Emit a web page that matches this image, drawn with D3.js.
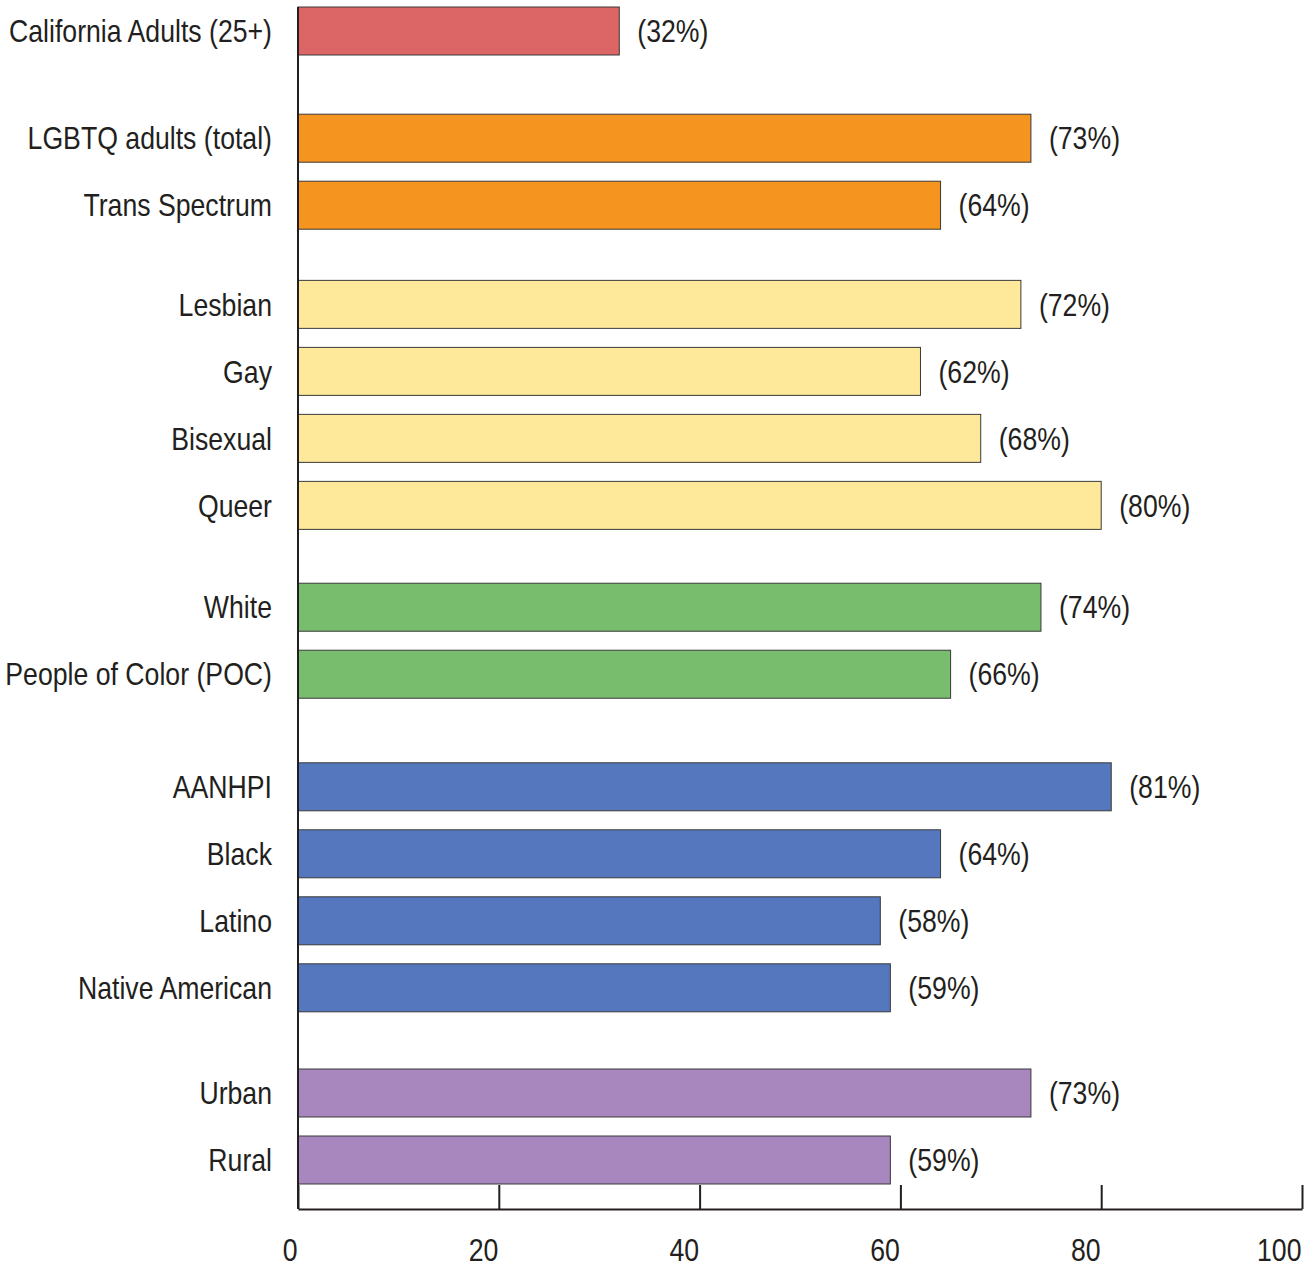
<!DOCTYPE html>
<html>
<head>
<meta charset="utf-8">
<script src="https://cdn.jsdelivr.net/npm/d3@7"></script>
<style>
  body { margin: 0; background: #fff; }
  text { font-family: "Liberation Sans", Arial, sans-serif; fill: #231f20; }
</style>
</head>
<body>
<div id="chart"></div>
<script>
// data
var categories = ['California Adults (25+)', 'LGBTQ adults (total)', 'Trans Spectrum',
    'Lesbian', 'Gay', 'Bisexual', 'Queer',
    'White', 'People of Color (POC)',
    'AANHPI', 'Black', 'Latino', 'Native American',
    'Urban', 'Rural'];
var values = [32, 73, 64, 72, 62, 68, 80, 74, 65, 81, 64, 58, 59, 73, 59];
var valueLabels = ['(32%)', '(73%)', '(64%)', '(72%)', '(62%)', '(68%)', '(80%)',
    '(74%)', '(66%)', '(81%)', '(64%)', '(58%)', '(59%)', '(73%)', '(59%)'];
var groups = [0, 1, 1, 2, 2, 2, 2, 3, 3, 4, 4, 4, 4, 5, 5];
var groupColors = ['#dc6565', '#f5941f', '#fde999', '#77bd6d', '#5577bd', '#a887be'];
var ticks = [0, 20, 40, 60, 80, 100];

var width = 1315, height = 1266;
// extra vertical space (in rows) before each group
var groupOffset = [0, 0.6, 1.08, 1.6, 2.28, 2.85];
var squeeze = 0.86; // condensed type look

var svg = d3.select("#chart").append("svg")
    .attr("width", width)
    .attr("height", height);

var x = d3.scaleLinear().domain([0, 100]).range([298, 1302]);

var slots = categories.map(function (c, i) { return i + groupOffset[groups[i]]; });
var y = d3.scaleLinear()
    .domain([0, d3.max(slots)])
    .range([7, 1136]);
var barH = 48;

var rows = categories.map(function (c, i) {
    return { name: c, value: values[i], label: valueLabels[i], group: groups[i], slot: slots[i] };
});

svg.append("g").selectAll("rect")
    .data(rows)
    .join("rect")
    .attr("x", x(0))
    .attr("y", function (d) { return y(d.slot); })
    .attr("width", function (d) { return x(d.value) - x(0); })
    .attr("height", barH)
    .attr("fill", function (d) { return groupColors[d.group]; })
    .attr("stroke", "#3a3a3a")
    .attr("stroke-width", 1);

// category labels
svg.append("g").selectAll("text")
    .data(rows)
    .join("text")
    .attr("transform", function (d) {
        return "translate(272," + (y(d.slot) + barH / 2) + ") scale(" + squeeze + ",1)";
    })
    .attr("dy", "0.36em")
    .attr("text-anchor", "end")
    .style("font-size", "31px")
    .text(function (d) { return d.name; });

// value labels
svg.append("g").selectAll("text")
    .data(rows)
    .join("text")
    .attr("transform", function (d) {
        return "translate(" + (x(d.value) + 18) + "," + (y(d.slot) + barH / 2) + ") scale(" + squeeze + ",1)";
    })
    .attr("dy", "0.36em")
    .style("font-size", "31px")
    .text(function (d) { return d.label; });

// x axis
var axisY = 1209;
var xAxis = svg.append("g")
    .attr("transform", "translate(0," + axisY + ")")
    .call(d3.axisBottom(x).tickValues(ticks).tickSizeInner(-24).tickSizeOuter(0).tickFormat(d3.format("d")));
xAxis.select(".domain").attr("stroke", "#231f20").attr("stroke-width", 2);
xAxis.selectAll(".tick line").attr("stroke", "#231f20").attr("stroke-width", 2);
xAxis.selectAll(".tick text").remove();
xAxis.selectAll(".tick").append("text")
    .attr("transform", "translate(-1,52) scale(" + squeeze + ",1)")
    .attr("text-anchor", "end")
    .style("font-size", "31px")
    .text(function (d) { return d; });

// left axis line
svg.append("line")
    .attr("x1", x(0)).attr("x2", x(0))
    .attr("y1", y(0)).attr("y2", axisY)
    .attr("stroke", "#231f20")
    .attr("stroke-width", 2);
</script>
</body>
</html>
